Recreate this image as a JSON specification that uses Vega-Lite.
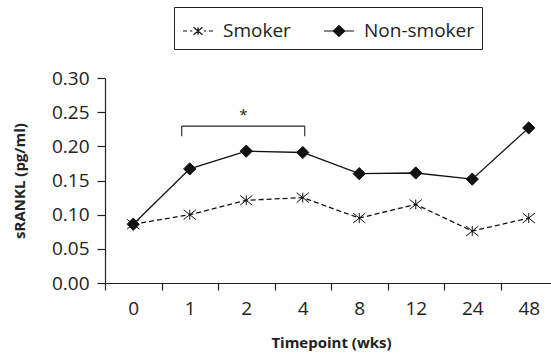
{
  "$schema": "https://vega.github.io/schema/vega-lite/v6.json",
  "width": 452,
  "height": 205,
  "autosize": "none",
  "padding": {"left": 105, "top": 78, "right": 0, "bottom": 77},
  "background": "white",
  "config": {
    "view": {"stroke": null},
    "font": "Open Sans",
    "axis": {
      "domainColor": "#222",
      "tickColor": "#222",
      "labelColor": "#222",
      "titleColor": "#222",
      "labelFont": "Open Sans",
      "titleFont": "Open Sans",
      "labelFontSize": 19,
      "titleFontSize": 15,
      "titleFontWeight": "bold",
      "grid": false,
      "domainWidth": 1.2,
      "tickWidth": 1.2
    }
  },
  "datasets": {
    "series": [
      {"week": "0", "group": "Smoker", "v": 0.086},
      {"week": "1", "group": "Smoker", "v": 0.100},
      {"week": "2", "group": "Smoker", "v": 0.121},
      {"week": "4", "group": "Smoker", "v": 0.125},
      {"week": "8", "group": "Smoker", "v": 0.095},
      {"week": "12", "group": "Smoker", "v": 0.115},
      {"week": "24", "group": "Smoker", "v": 0.076},
      {"week": "48", "group": "Smoker", "v": 0.095},
      {"week": "0", "group": "Non-smoker", "v": 0.086},
      {"week": "1", "group": "Non-smoker", "v": 0.167},
      {"week": "2", "group": "Non-smoker", "v": 0.193},
      {"week": "4", "group": "Non-smoker", "v": 0.191},
      {"week": "8", "group": "Non-smoker", "v": 0.160},
      {"week": "12", "group": "Non-smoker", "v": 0.161},
      {"week": "24", "group": "Non-smoker", "v": 0.152},
      {"week": "48", "group": "Non-smoker", "v": 0.227}
    ],
    "bracket": [{"from": "1", "to": "4", "top": 0.2296, "foot": 0.2148}],
    "star": [{"week": "2", "v": 0.238, "t": "*"}]
  },
  "encoding": {
    "x": {
      "field": "week",
      "type": "ordinal",
      "scale": {"domain": ["0", "1", "2", "4", "8", "12", "24", "48"], "paddingInner": 0, "paddingOuter": 0},
      "axis": {
        "title": "Timepoint (wks)",
        "labelAngle": 0,
        "tickBand": "extent",
        "tickSize": 7,
        "labelPadding": 9,
        "titlePadding": 17
      }
    },
    "y": {
      "field": "v",
      "type": "quantitative",
      "scale": {"domain": [0, 0.3], "nice": false},
      "axis": {
        "title": "sRANKL (pg/ml)",
        "values": [0, 0.05, 0.1, 0.15, 0.2, 0.25, 0.3],
        "format": ".2f",
        "tickSize": 8,
        "labelPadding": 8,
        "titlePadding": 24
      }
    }
  },
  "layer": [
    {
      "data": {"name": "series"},
      "transform": [{"filter": "datum.group === 'Smoker'"}],
      "mark": {"type": "line", "color": "#111", "strokeWidth": 1.3, "strokeDash": [5, 3]},
      "encoding": {}
    },
    {
      "data": {"name": "series"},
      "transform": [{"filter": "datum.group === 'Non-smoker'"}],
      "mark": {"type": "line", "color": "#111", "strokeWidth": 1.3},
      "encoding": {}
    },
    {
      "data": {"name": "series"},
      "transform": [{"filter": "datum.group === 'Smoker'"}],
      "mark": {"type": "point", "shape": "M-1,-0.8L1,0.8M-1,0.8L1,-0.8M0,-0.8L0,0.8", "fill": "#111", "stroke": "#111", "strokeWidth": 1, "opacity": 1, "size": 150},
      "encoding": {}
    },
    {
      "data": {"name": "series"},
      "transform": [{"filter": "datum.group === 'Non-smoker'"}],
      "mark": {"type": "point", "shape": "diamond", "fill": "#111", "stroke": "#111", "strokeWidth": 1, "opacity": 1, "size": 150},
      "encoding": {}
    },
    {
      "data": {"name": "series"},
      "mark": {"type": "point", "filled": true, "opacity": 0, "size": 10},
      "encoding": {
        "color": {
          "field": "group",
          "scale": {"domain": ["Smoker", "Non-smoker"], "range": ["#111", "#111"]},
          "legend": {
            "title": null,
            "orient": "none",
            "legendX": 69,
            "legendY": -71,
            "direction": "horizontal",
            "strokeColor": "#222",
            "padding": 8,
            "symbolType": {"expr": "datum.value === 'Smoker' ? 'M-1,0L-0.73,0M-0.53,0L-0.38,0M-0.3,-0.25L0.3,0.25M-0.3,0.25L0.3,-0.25M0,-0.25L0,0.25M0.38,0L0.53,0M0.73,0L1,0' : 'M-1,0L1,0M0,-0.36L0.38,0L0,0.36L-0.38,0Z'"},
            "symbolSize": 900,
            "symbolOpacity": 1,
            "symbolFillColor": "#111",
            "symbolStrokeColor": "#111",
            "symbolStrokeWidth": 1.2,
            "labelFont": "Open Sans",
            "labelFontSize": 19,
            "labelColor": "#222",
            "labelOffset": 9,
            "columnPadding": 30
          }
        }
      }
    },
    {
      "data": {"name": "bracket"},
      "mark": {"type": "rule", "color": "#222", "strokeWidth": 1.1, "xOffset": -8, "x2Offset": 2},
      "encoding": {
        "x": {"field": "from", "type": "ordinal", "scale": {"domain": ["0", "1", "2", "4", "8", "12", "24", "48"]}},
        "x2": {"field": "to"},
        "y": {"field": "top", "type": "quantitative"}
      }
    },
    {
      "data": {"name": "bracket"},
      "mark": {"type": "rule", "color": "#222", "strokeWidth": 1.1, "xOffset": -8},
      "encoding": {
        "x": {"field": "from", "type": "ordinal", "scale": {"domain": ["0", "1", "2", "4", "8", "12", "24", "48"]}},
        "y": {"field": "top", "type": "quantitative"},
        "y2": {"field": "foot"}
      }
    },
    {
      "data": {"name": "bracket"},
      "mark": {"type": "rule", "color": "#222", "strokeWidth": 1.1, "xOffset": 2},
      "encoding": {
        "x": {"field": "to", "type": "ordinal", "scale": {"domain": ["0", "1", "2", "4", "8", "12", "24", "48"]}},
        "y": {"field": "top", "type": "quantitative"},
        "y2": {"field": "foot"}
      }
    },
    {
      "data": {"name": "star"},
      "mark": {"type": "text", "fontSize": 15, "baseline": "alphabetic", "dx": -3, "color": "#222", "font": "Open Sans"},
      "encoding": {
        "text": {"field": "t"},
        "x": {"field": "week", "type": "ordinal", "scale": {"domain": ["0", "1", "2", "4", "8", "12", "24", "48"]}},
        "y": {"field": "v", "type": "quantitative"}
      }
    }
  ]
}
